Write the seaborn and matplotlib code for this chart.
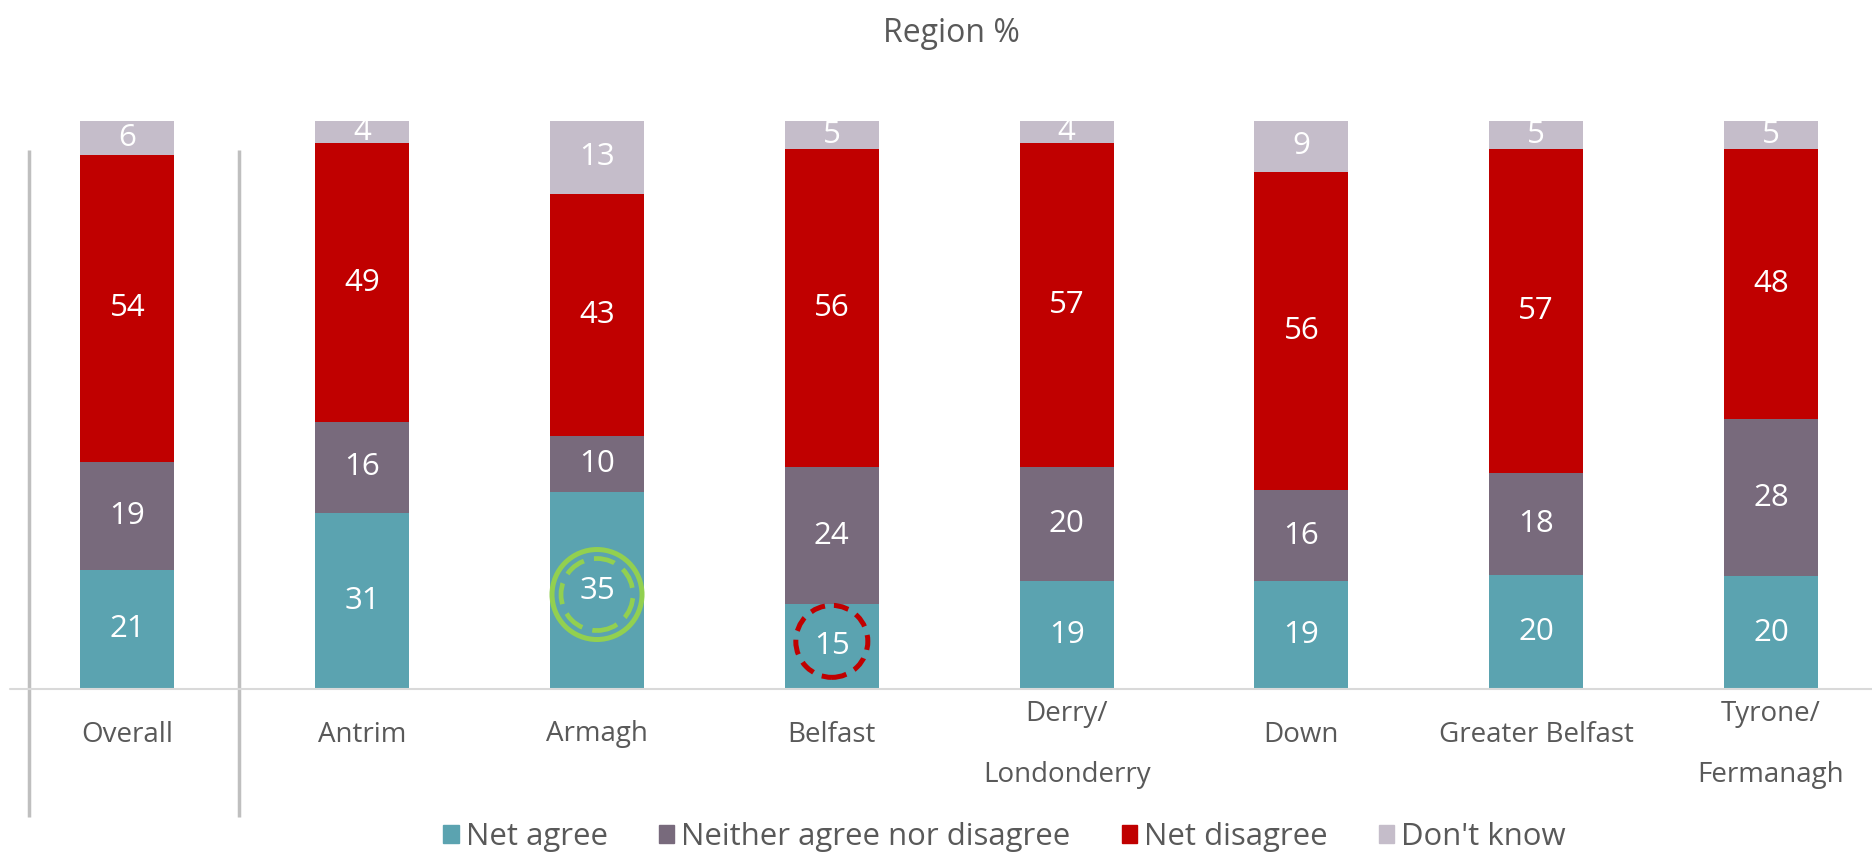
import matplotlib
matplotlib.use("Agg")
import matplotlib.pyplot as plt
import matplotlib.patches as mpatches
import matplotlib.transforms as mtransforms
import numpy as np
import pandas as pd
import seaborn as sns

# data (rounded %, bars are 100% stacked)
regions = ["Overall", "Antrim", "Armagh", "Belfast", "Derry/\nLondonderry",
           "Down", "Greater Belfast", "Tyrone/\nFermanagh"]
net_agree = [21, 31, 35, 15, 19, 19, 20, 20]
neither = [19, 16, 10, 24, 20, 16, 18, 28]
net_disagree = [54, 49, 43, 56, 57, 56, 57, 48]
dont_know = [6, 4, 13, 5, 4, 9, 5, 5]

series_names = ["Net agree", "Neither agree nor disagree", "Net disagree", "Don't know"]
series_colors = ["#5BA3B0", "#786A7C", "#C00000", "#C5BDCA"]

TXT = "#595959"
FS_TICK = 20
FS_BIG = 23

sns.set_theme(style="white")
plt.rcParams["font.family"] = ["Open Sans", "DejaVu Sans"]

df = pd.DataFrame(dict(zip(series_names, [net_agree, neither, net_disagree, dont_know])), index=regions)
shares = df.div(df.sum(axis=1), axis=0) * 100

fig = plt.figure(figsize=(18.72, 8.52), dpi=100)
ax = fig.add_axes([10 / 1872, 163 / 852, 1862 / 1872, 568.4 / 852])

bottom = np.zeros(len(regions))
for name, color in zip(series_names, series_colors):
    vals = shares[name].values
    sns.barplot(x=regions, y=vals, bottom=bottom, color=color, width=0.4,
                saturation=1, errorbar=None, linewidth=0, ax=ax)
    for i, (v, s) in enumerate(zip(df[name], vals)):
        ax.text(i, bottom[i] + s / 2, str(v), ha="center", va="center",
                color="white", fontsize=22.5, zorder=4)
    bottom += vals

ax.set_xlim(-0.5, 7.43)
ax.set_ylim(0, 100)
ax.set_yticks([])
ax.set_ylabel("")
ax.set_xlabel("")
for sp in ax.spines.values():
    sp.set_visible(False)
ax.axhline(0, color="#D9D9D9", lw=1.5, clip_on=False, zorder=3)

# category labels: single lines sit a bit higher than the two-line ones
ax.tick_params(axis="x", length=0, labelbottom=False)
for i, lab in enumerate(regions):
    drop = 55.6 if "\n" in lab else 45.5
    tr = mtransforms.blended_transform_factory(ax.transData, ax.transAxes) + \
        mtransforms.ScaledTranslation(0, -drop / 100, fig.dpi_scale_trans)
    ax.text(i, 0, lab, transform=tr, ha="center", va="center", fontsize=FS_TICK,
            color=TXT, linespacing=2.6, multialignment="center")

# separators around the "Overall" bar
for xs in [-0.42, 0.477]:
    ax.plot([xs, xs], [-22.5, 94.8], color="#BFBFBF", lw=2.5,
            clip_on=False, solid_capstyle="butt")


def ring(i, r_px, color, lw, dashes=None, dy_px=0):
    y = shares["Net agree"].iloc[i] / 2
    cx, cy = ax.transData.transform((i, y))
    c = mpatches.Circle((cx, cy + dy_px), r_px, transform=mtransforms.IdentityTransform(),
                        fill=False, edgecolor=color, linewidth=lw, zorder=5)
    if dashes:
        c.set_linestyle((0, dashes))
    ax.add_artist(c)


ring(2, 45, "#92D050", 3.6, dy_px=-4)
ring(2, 36, "#92D050", 3.4, dashes=(4.5, 2.2), dy_px=-4)
ring(3, 36, "#C00000", 3.6, dashes=(3.0, 1.8), dy_px=5)

fig.text(951 / 1872, 1 - 34 / 852, "Region %", ha="center", va="center",
         fontsize=FS_BIG, color=TXT)

handles = [mpatches.Patch(color=c) for c in series_colors]
fig.legend(handles, series_names, loc="center", bbox_to_anchor=(0.5366, 0.0176),
           ncol=4, frameon=False, fontsize=22.4, handlelength=0.5, handleheight=0.5,
           handletextpad=0.22, columnspacing=1.64, labelcolor=TXT)

fig.savefig("out.png", dpi=100)
